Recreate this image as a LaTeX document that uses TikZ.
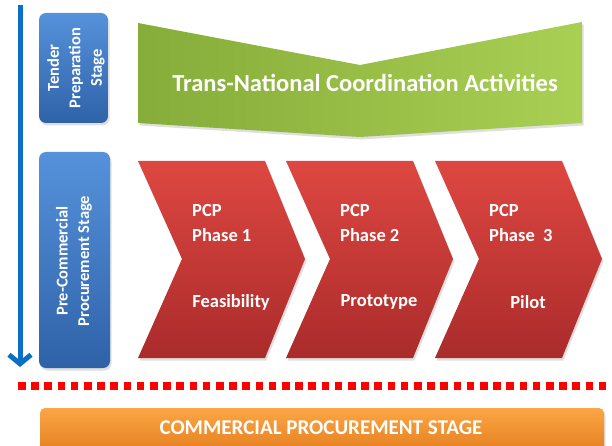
\documentclass[tikz,border=0pt]{standalone}
\usepackage{fontspec}
\setmainfont{Carlito}
\usetikzlibrary{arrows.meta,shadows}

\definecolor{stagelight}{HTML}{5592DB}
\definecolor{stagedark}{HTML}{2F62A8}
\definecolor{tnlight}{HTML}{A9CF53}
\definecolor{tndark}{HTML}{86AC3A}
\definecolor{pcplight}{HTML}{DE4741}
\definecolor{pcpdark}{HTML}{AA2B2B}
\definecolor{cplight}{HTML}{FCA645}
\definecolor{cpdark}{HTML}{E27C1C}
\definecolor{flowblue}{HTML}{0B6FC5}
\definecolor{splitred}{HTML}{FF0000}

\newcommand\pcpwidth{127}
\newcommand\pcptip{40}
\newcommand\pcpnotch{44}
\newcommand\pcptop{161}
\newcommand\pcpmid{259}
\newcommand\pcpbottom{358}
\newcommand\pcpchevron[4]{
  \path[pcpshape] (#1, \pcptop) -- ++ (\pcpwidth, 0) -- (#1 + \pcpwidth + \pcptip, \pcpmid)
    -- (#1 + \pcpwidth, \pcpbottom) -- (#1, \pcpbottom) -- (#1 + \pcpnotch, \pcpmid) -- cycle ;
  \node[pcptext, anchor=north west, align=left] (#2-phase) at (#1 + 54, 204) {PCP\\#3} ;
  \node[pcptext] (#2-label) at (#1 + 93, 302) {#4} ;
}

\tikzset{
  softshadow/.style={drop shadow={opacity=0.25, shadow xshift=1.5pt, shadow yshift=-2.5pt}},
  stagebox/.style={top color=stagelight, bottom color=stagedark, rounded corners=7pt, softshadow},
  stagetext/.style={text=white, font=\fontsize{16.5}{21.5}\selectfont\bfseries, align=center, rotate=90, inner sep=0pt},
  tnshape/.style={left color=tndark, right color=tnlight, softshadow},
  pcpshape/.style={top color=pcplight, bottom color=pcpdark, softshadow},
  pcptext/.style={text=white, font=\fontsize{18.5}{25}\selectfont\bfseries, inner sep=0pt},
  cpbar/.style={top color=cplight, bottom color=cpdark, rounded corners=5pt, softshadow},
}

\begin{document}
\begin{tikzpicture}[x=1pt, y=-1pt]
  \useasboundingbox[fill=white] (0,0) rectangle (612,446) ;

  % time axis
  \coordinate (flowtop) at (20,5) ;
  \coordinate (flowend) at (20,367) ;
  \draw[flowblue, line width=5pt, -{Straight Barb[length=9pt, width=22pt]}] (flowtop) -- (flowend) ;

  % stages on the left
  \path[stagebox] (39,13) rectangle (108,123) ;
  \node[stagetext] (tender) at (76,68) {Tender\\Preparation\\Stage} ;
  \path[stagebox] (39,152) rectangle (110,368) ;
  \node[stagetext] (precommercial) at (74,261) {Pre-Commercial\\Procurement Stage} ;

  % coordination chevron
  \path[tnshape] (138,23) -- (360,65) -- (582,22) -- (582,123) -- (360,137) -- (138,123) -- cycle ;
  \node[text=white, font=\fontsize{24.5}{28}\selectfont\bfseries] (coordination) at (365,83) {Trans-National Coordination Activities} ;

  % pcp phases
  \pcpchevron{138}{phaseone}{Phase 1}{Feasibility}
  \pcpchevron{286}{phasetwo}{Phase 2}{Prototype}
  \pcpchevron{435}{phasethree}{Phase\ \ 3}{Pilot}

  % split line
  \coordinate (splitstart) at (18,386) ;
  \coordinate (splitend) at (612,386) ;
  \draw[splitred, line width=7.5pt, dash pattern=on 7.5pt off 5.7pt] (splitstart) -- (splitend) ;

  % commercial stage
  \path[cpbar] (40,408) rectangle (604,456) ;
  \node[text=white, font=\fontsize{21}{24}\selectfont\bfseries] (commercial) at (321,428) {COMMERCIAL PROCUREMENT STAGE} ;
\end{tikzpicture}
\end{document}
